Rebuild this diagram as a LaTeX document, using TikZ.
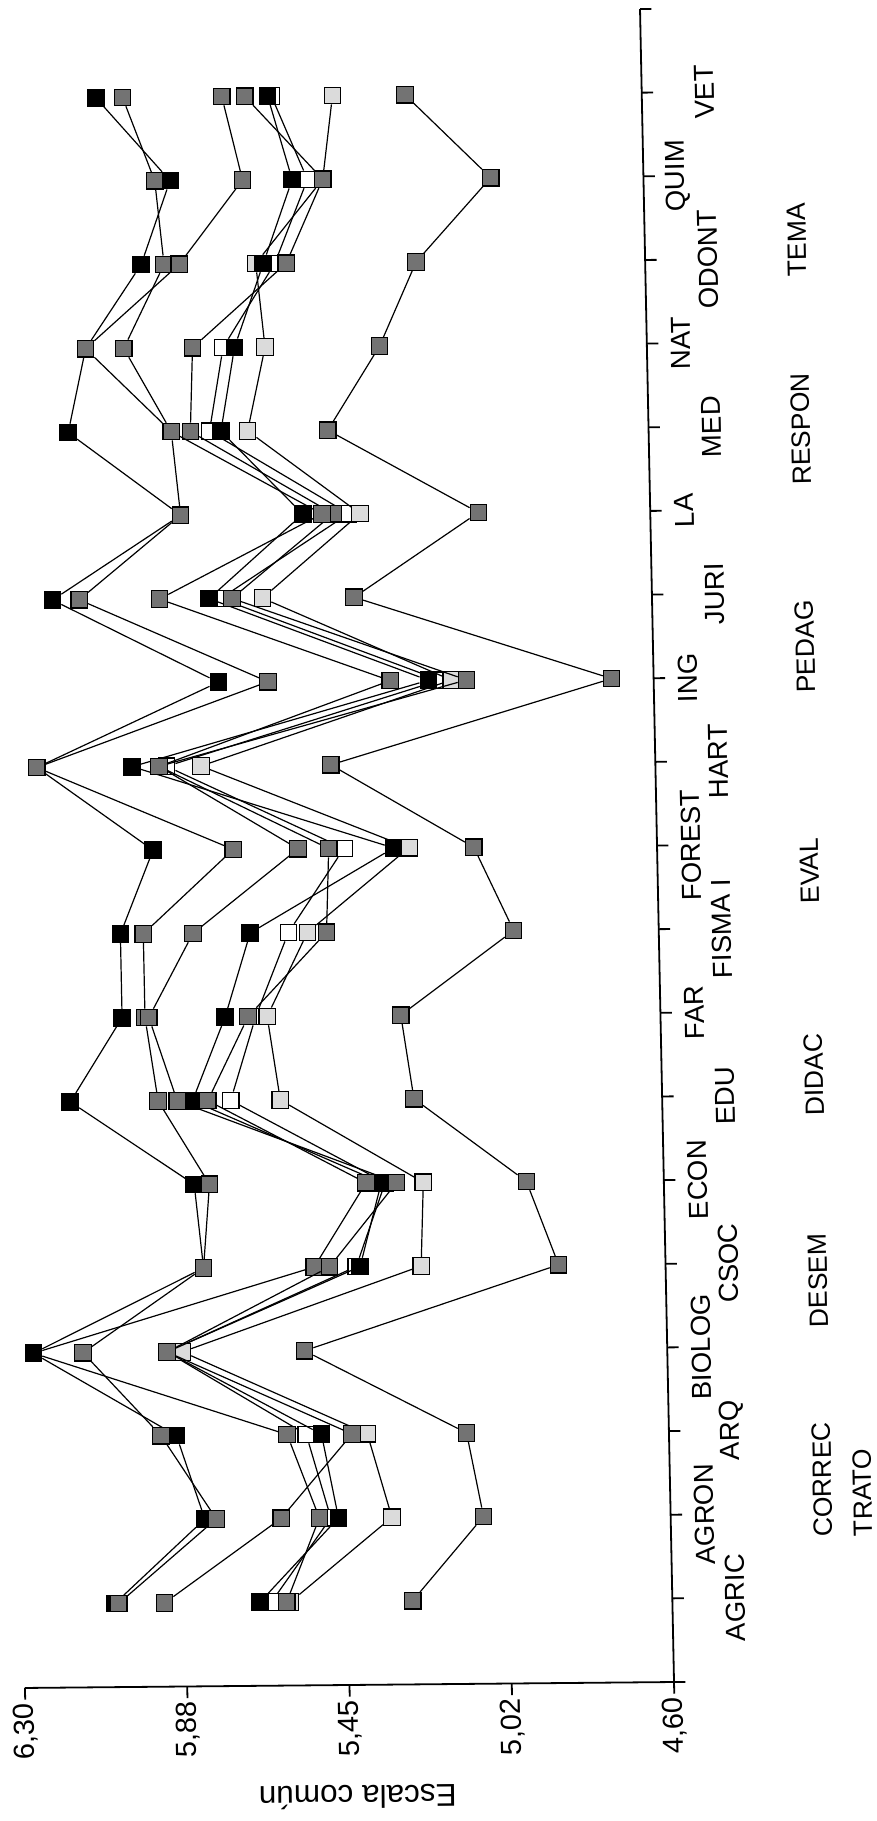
\documentclass[tikz,border=0pt]{standalone}
\usepackage{fontspec}
\setmainfont{Liberation Sans}
\setsansfont{Liberation Sans}
\usetikzlibrary{positioning}

\definecolor{mgray}{gray}{0.45}
\definecolor{mlight}{gray}{0.86}

\tikzset{
	axisline/.style={line width=1.8pt},
	serie/.style={line width=1.2pt},
	sq/.style={rectangle, draw=black, line width=1.2pt, minimum size=16.5pt, inner sep=0pt},
	catlabel/.style={rotate=91.2, inner sep=0pt, font=\fontsize{27.5}{29}\selectfont},
	leglabel/.style={rotate=91.2, inner sep=0pt, anchor=north, align=left, font=\fontsize{26.5}{40}\selectfont},
	ticklabel/.style={rotate=91.2, inner sep=0pt, anchor=east, font=\fontsize{29}{31}\selectfont}
}

\begin{document}
\begin{tikzpicture}[font=\sffamily]
	\def\Tc{0.03}
	\def\Tv{0.14}
	\useasboundingbox (0,0) rectangle (877pt,-1821pt);

	% chart frame: x = career, y = scale value (page is turned)
	\begin{scope}[shift={(2430.3pt,-1665.9pt)}, x={(-1.7pt,83.65pt)}, y={(-381.8pt,-3.5pt)}]
	\draw[axisline]	(0,6.3) -- (0,4.6) -- (20,4.6);
	\foreach \c in {0,...,20}
		\draw[axisline]	(\c,4.6) --++ (0,-\Tc);
	\foreach \v/\l [count=\i] in {4.6/{4,60},5.025/{5,02},5.45/{5,45},5.875/{5,88},6.3/{6,30}} {
		\draw[axisline]	(0,\v) --++ (-\Tv,0);
		\node[ticklabel] (yt-\i) at (-0.18,\v) {\l};
	}
	\node[rotate=180.5, inner sep=0pt, font=\fontsize{31.5}{33}\selectfont] (ylab) at (-1.34,5.434) {Escala común};

	\foreach \lab [count=\c] in {AGRIC,AGRON,ARQ,BIOLOG,CSOC,ECON,EDU,FAR,FISMA I,FOREST,HART,ING,JURI,LA,MED,NAT,ODONT,QUIM,VET} {
		\pgfmathsetmacro\lv{isodd(\c) ? 4.435 : 4.511}
		\node[catlabel] (cat-\c) at (\c,\lv) {\lab};
	}
	\foreach \lab/\c/\nm in {CORREC\\TRATO/2.40/correc, DESEM/4.78/desem, DIDAC/7.24/didac, EVAL/9.68/eval, PEDAG/12.36/pedag, RESPON/14.96/respon, TEMA/17.22/tema}
		\node[leglabel] (leg-\nm) at (\c,4.226) {\lab};

	% series
	\foreach \sname/\fc/\vals in {
		s6/white/{5.65,5.49,5.55,5.91,5.41,5.33,5.73,5.66,5.57,5.42,5.88,5.16,5.73,5.39,5.75,5.71,5.57,5.48,5.57},
		s7/mlight/{5.60,5.33,5.39,5.87,5.24,5.23,5.60,5.63,5.52,5.25,5.79,5.13,5.62,5.36,5.65,5.60,5.62,5.44,5.41},
		s8/mgray/{5.28,5.09,5.13,5.55,4.88,4.96,5.25,5.28,4.98,5.08,5.45,4.71,5.38,5.05,5.44,5.30,5.20,5.00,5.22},
		s5/black/{5.68,5.47,5.51,5.91,5.40,5.34,5.83,5.74,5.67,5.29,5.97,5.19,5.76,5.51,5.72,5.68,5.60,5.52,5.58},
		s4/mgray/{5.61,5.52,5.60,6.26,5.52,5.38,5.79,5.68,5.47,5.46,5.90,5.09,5.70,5.43,5.80,5.79,5.54,5.44,5.64},
		s1/black/{6.06,5.82,5.89,6.26,5.81,5.83,6.15,6.01,6.01,5.92,6.22,5.74,6.17,5.83,6.12,6.07,5.92,5.84,6.03},
		s2/mgray/{6.05,5.79,5.93,6.13,5.81,5.79,5.92,5.95,5.95,5.71,6.22,5.61,6.10,5.83,5.85,5.97,5.86,5.88,5.96},
		s3/mgray/{5.93,5.62,5.43,5.91,5.48,5.30,5.87,5.94,5.82,5.54,5.90,5.29,5.89,5.46,5.85,6.07,5.82,5.65,5.70}} {
		\foreach \v [count=\c] in \vals
			\node[sq, fill=\fc] (\sname-\c) at (\c,\v) {};
		\foreach \c [remember=\c as \p (initially 1)] in {2,...,19}
			\draw[serie]	(\sname-\p) -- (\sname-\c);
	}
	\end{scope}
\end{tikzpicture}
\end{document}
